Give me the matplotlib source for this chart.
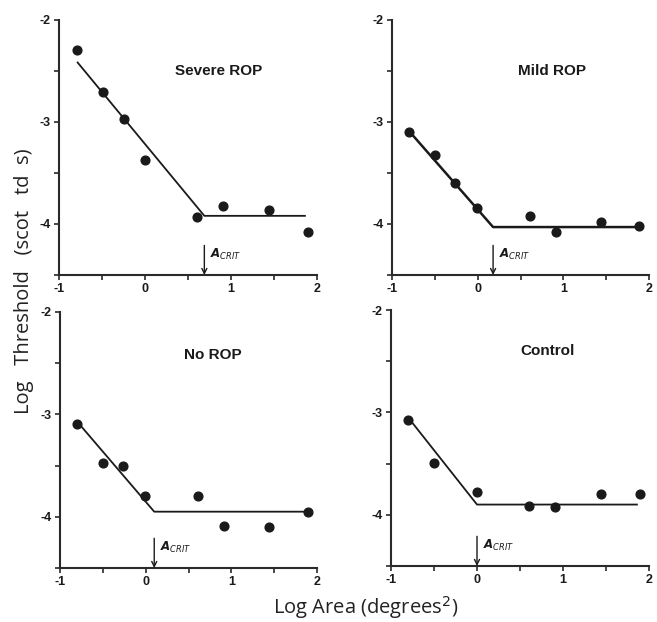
import matplotlib
matplotlib.use("Agg")
import matplotlib.pyplot as plt

# ---- data ----
panel_titles = ["Severe ROP", "Mild ROP", "No ROP", "Control"]

x_severe = [-0.79, -0.49, -0.25, 0.00, 0.60, 0.91, 1.44, 1.89]
y_severe = [-2.29, -2.71, -2.97, -3.37, -3.93, -3.82, -3.86, -4.08]

x_mild = [-0.80, -0.50, -0.26, -0.01, 0.61, 0.91, 1.44, 1.88]
y_mild = [-3.10, -3.32, -3.60, -3.84, -3.92, -4.08, -3.98, -4.02]

x_norop = [-0.80, -0.50, -0.26, -0.01, 0.61, 0.91, 1.44, 1.89]
y_norop = [-3.09, -3.47, -3.50, -3.80, -3.80, -4.09, -4.10, -3.95]

x_control = [-0.80, -0.50, 0.00, 0.61, 0.91, 1.44, 1.89]
y_control = [-3.07, -3.49, -3.78, -3.91, -3.92, -3.80, -3.80]

# fitted two-limb lines: (start x, start y, break x (A_crit), plateau y, end x)
fit_severe = (-0.79, -2.41, 0.69, -3.92, 1.87)
fit_mild = (-0.81, -3.08, 0.18, -4.03, 1.87)
fit_norop = (-0.80, -3.07, 0.10, -3.95, 1.89)
fit_control = (-0.80, -3.05, 0.00, -3.90, 1.87)

x_ticks = [-1, -0.5, 0, 0.5, 1, 1.5, 2]
x_ticklabels = ["-1", "", "0", "", "1", "", "2"]
y_ticks = [-4.5, -4, -3.5, -3, -2.5, -2]
y_ticklabels = ["", "-4", "", "-3", "", "-2"]

# ---- layout ----
W, H = 657, 622
fig = plt.figure(figsize=(W / 100, H / 100), dpi=100)
fig.patch.set_facecolor("white")

def rect(l, r, t, b):
    return [l / W, 1 - b / H, (r - l) / W, (b - t) / H]

rects = [rect(59, 317, 20, 275), rect(392, 649, 20, 275),
         rect(60, 317, 312, 568), rect(391, 649, 310, 566)]
xs = [x_severe, x_mild, x_norop, x_control]
ys = [y_severe, y_mild, y_norop, y_control]
fits = [fit_severe, fit_mild, fit_norop, fit_control]
title_pos = [(0.86, -2.50), (0.87, -2.50), (0.78, -2.42), (0.82, -2.40)]
fit_lw = [1.3, 1.8, 1.3, 1.3]

ink = "#1a1a1a"
tick_font = dict(family="Liberation Sans", weight="bold", size=9)

for i in range(4):
    ax = fig.add_axes(rects[i])
    ax.set_xlim(-1, 2)
    ax.set_ylim(-4.5, -2)
    for s in ["top", "right"]:
        ax.spines[s].set_visible(False)
    for s in ["left", "bottom"]:
        ax.spines[s].set_linewidth(1.5)
        ax.spines[s].set_color("#2a2a2a")
    ax.set_xticks(x_ticks)
    ax.set_xticklabels(x_ticklabels)
    ax.set_yticks(y_ticks)
    ax.set_yticklabels(y_ticklabels)
    ax.tick_params(direction="out", length=3.5, width=1.2, color="#2a2a2a",
                   pad=2.5)
    for lab in ax.get_xticklabels() + ax.get_yticklabels():
        lab.set_fontproperties(matplotlib.font_manager.FontProperties(**tick_font))
        lab.set_color(ink)

    x0, y0, xb, yp, x1 = fits[i]
    ax.plot([x0, xb, x1], [y0, yp, yp], color=ink, lw=fit_lw[i],
            solid_capstyle="butt", clip_on=False)
    ax.plot(xs[i], ys[i], "o", color=ink, markersize=6.3, clip_on=False)

    ax.annotate("", xy=(xb, -4.5), xytext=(xb, -4.21),
                arrowprops=dict(arrowstyle="->", color=ink, lw=1.0,
                                shrinkA=0, shrinkB=0, mutation_scale=9))
    ax.text(xb + 0.07, -4.30, r"$\mathbfit{A}_{\mathit{CRIT}}$", fontsize=8.5,
            color=ink, ha="left", va="center")

    tx, ty = title_pos[i]
    ax.text(tx, ty, panel_titles[i], family="Liberation Sans", weight="bold",
            fontsize=11, color=ink, ha="center", va="center")

label_font = dict(family="Open Sans", fontsize=14.5, color="#222222")
fig.text(24 / W, 1 - 281 / H, "Log   Threshold   (scot   td  s)", rotation=90,
         ha="center", va="center", **label_font)
fig.text(366 / W, 1 - 614 / H, r"Log Area (degrees$^{2}$)", ha="center",
         va="baseline", **label_font)

fig.savefig("out.png", dpi=100, facecolor="white")
